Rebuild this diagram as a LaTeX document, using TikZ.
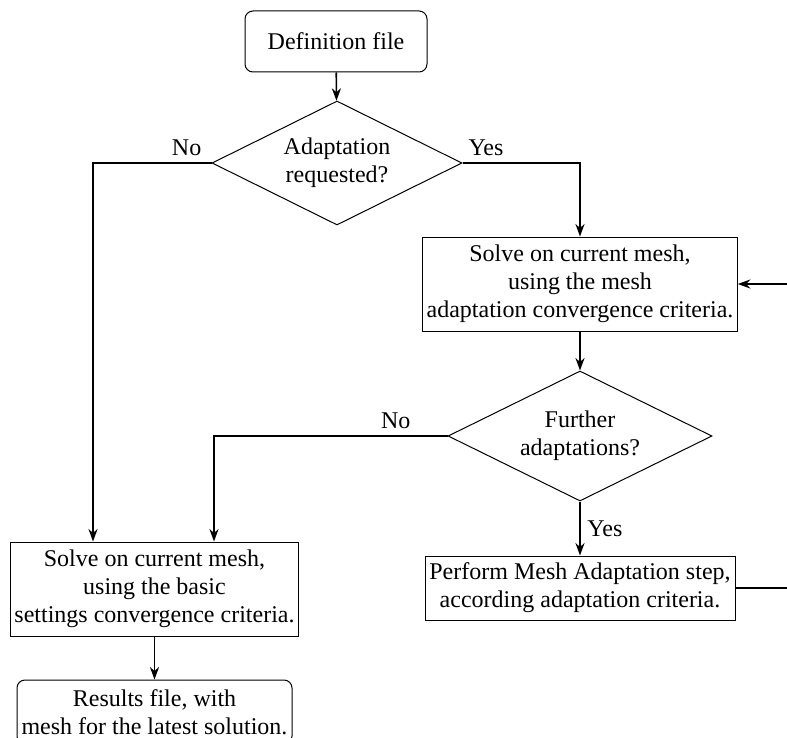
\documentclass[tikz,border=0pt]{standalone}
\usepackage{fontspec}
\setmainfont{Liberation Serif}
\usetikzlibrary{arrows.meta,shapes.geometric}

\begin{document}
\begin{tikzpicture}[x=0.5pt,y=-0.5pt,line width=0.8pt,>={Stealth[length=2.2mm,width=1.6mm]},
  font=\fontsize{12}{14}\selectfont,
  proc/.style={draw,line width=0.5pt,align=center,inner sep=2pt},
  term/.style={proc,rounded corners=4pt},
  decide/.style={draw,diamond,aspect=2,line width=0.5pt,align=center,inner sep=0pt}]
  \useasboundingbox (0,0) rectangle (787,738);
  % nodes
  \node[term,minimum width=91pt,minimum height=30.5pt] (def) at (336,41.5){Definition file};
  \node[decide,minimum width=125pt,minimum height=62pt] (askadapt) at (337,163){Adaptation\\requested?};
  \node[proc,minimum width=156.5pt,minimum height=47pt] (solvemesh) at (580,284){Solve on current mesh,\\using the mesh\\adaptation convergence criteria.};
  \node[decide,minimum width=132pt,minimum height=65pt] (askmore) at (580,436){Further\\adaptations?};
  \node[proc,minimum width=155pt,minimum height=32pt] (adapt) at (580,588){Perform Mesh Adaptation step,\\according adaptation criteria.};
  \node[proc,minimum width=143.5pt,minimum height=47pt] (solvebasic) at (154.5,589){Solve on current mesh,\\using the basic\\settings convergence criteria.};
  \node[term,minimum width=137.5pt,minimum height=32pt] (results) at (154.5,712){Results file, with\\mesh for the latest solution.};
  \coordinate (loopdown) at (800,588);
  \coordinate (loopup) at (800,284);
  % connectors
  \draw[->] (def) -- (askadapt);
  \draw[->] (askadapt.west) -| (solvebasic.north -| 93,0) node[pos=0.105,above]{No};
  \draw[->] (askadapt.east) -| (solvemesh.north) node[pos=0.1,above]{Yes};
  \draw[->] (solvemesh) -- (askmore);
  \draw[->] (askmore.west) -| (solvebasic.north -| 214,0) node[pos=0.111,above]{No};
  \draw[->] (askmore) -- (adapt) node[midway,right]{Yes};
  \draw[->] (solvebasic) -- (results);
  \draw[->] (adapt.east) -- (loopdown) -- (loopup) -- (solvemesh.east);
\end{tikzpicture}
\end{document}
